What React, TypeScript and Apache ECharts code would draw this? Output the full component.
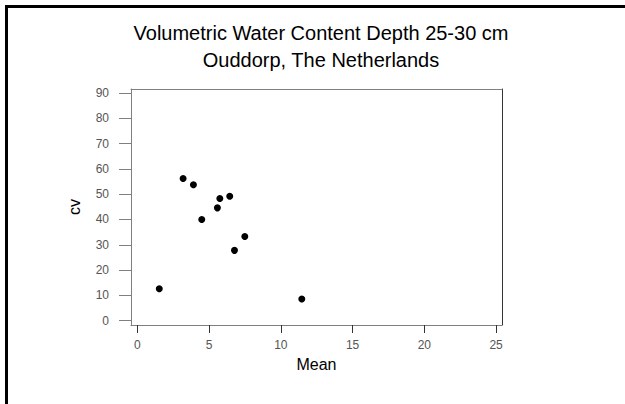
import React, { useEffect, useRef } from "react";
import * as echarts from "echarts";

const titleLines = ["Volumetric Water Content Depth 25-30 cm", "Ouddorp, The Netherlands"];
const xName = "Mean";
const yName = "cv";
const meanValues = [1.53, 3.19, 3.91, 4.49, 5.58, 5.75, 6.44, 6.77, 7.49, 11.46];
const cvValues = [12.6, 56.2, 53.7, 40.0, 44.6, 48.3, 49.2, 27.8, 33.3, 8.6];
const xTicks = [0, 5, 10, 15, 20, 25];
const yTicks = [0, 10, 20, 30, 40, 50, 60, 70, 80, 90];

const FONT = 'Arial, "Liberation Sans", sans-serif';

export default function App() {
  const ref = useRef<HTMLDivElement>(null);
  useEffect(() => {
    if (!ref.current) return;
    const chart = echarts.init(ref.current, undefined, { renderer: "svg" });
    const points = meanValues.map((m, i) => [m, cvValues[i]]);
    chart.setOption({
      animation: false,
      backgroundColor: "#fff",
      title: [
        {
          text: titleLines[0],
          left: 316,
          top: 18,
          textAlign: "center",
          textStyle: { fontFamily: FONT, fontSize: 20, fontWeight: "normal", color: "#000" },
        },
        {
          text: titleLines[1],
          left: 316,
          top: 45,
          textAlign: "center",
          textStyle: { fontFamily: FONT, fontSize: 20, fontWeight: "normal", color: "#000" },
        },
      ],
      graphic: [
        { type: "rect", shape: { x: 5, y: 5, width: 3, height: 399 }, style: { fill: "#000" } },
        { type: "rect", shape: { x: 5, y: 5, width: 620, height: 3 }, style: { fill: "#000" } },
      ],
      grid: { left: 131, top: 89, width: 371, height: 236, show: false },
      xAxis: [
        {
          type: "value",
          position: "bottom",
          min: -0.44,
          max: 25.41,
          name: xName,
          nameLocation: "middle",
          nameGap: 31,
          nameTextStyle: { fontFamily: FONT, fontSize: 16, color: "#000" },
          axisLine: { show: true, onZero: false, lineStyle: { color: "#808080", width: 1 } },
          axisTick: { show: true, inside: false, length: 8, customValues: xTicks, lineStyle: { color: "#333" } },
          axisLabel: { show: true, customValues: xTicks, margin: 14, fontFamily: FONT, fontSize: 12, color: "#555" },
          splitLine: { show: false },
        },
        {
          type: "value",
          position: "top",
          min: -0.44,
          max: 25.41,
          axisLine: { show: true, onZero: false, lineStyle: { color: "#808080", width: 1 } },
          axisTick: { show: false },
          axisLabel: { show: false },
          splitLine: { show: false },
        },
      ],
      yAxis: [
        {
          type: "value",
          position: "left",
          min: -1.7,
          max: 91.57,
          name: yName,
          nameLocation: "middle",
          nameGap: 49,
          nameTextStyle: { fontFamily: FONT, fontSize: 16, color: "#000" },
          axisLine: { show: true, onZero: false, lineStyle: { color: "#808080", width: 1 } },
          axisTick: { show: true, inside: false, length: 12, customValues: yTicks, lineStyle: { color: "#808080" } },
          axisLabel: { show: true, customValues: yTicks, margin: 22, fontFamily: FONT, fontSize: 12, color: "#555" },
          splitLine: { show: false },
        },
        {
          type: "value",
          position: "right",
          min: -1.7,
          max: 91.57,
          axisLine: { show: true, onZero: false, lineStyle: { color: "#333", width: 1 } },
          axisTick: { show: false },
          axisLabel: { show: false },
          splitLine: { show: false },
        },
      ],
      series: [
        {
          type: "scatter",
          xAxisIndex: 0,
          yAxisIndex: 0,
          data: points,
          symbol: "circle",
          symbolSize: 7,
          itemStyle: { color: "#000", opacity: 1 },
        },
      ],
    });
    return () => chart.dispose();
  }, []);
  return (
    <div
      ref={ref}
      style={{ position: "fixed", left: 0, top: 0, width: 625, height: 404 }}
    />
  );
}
